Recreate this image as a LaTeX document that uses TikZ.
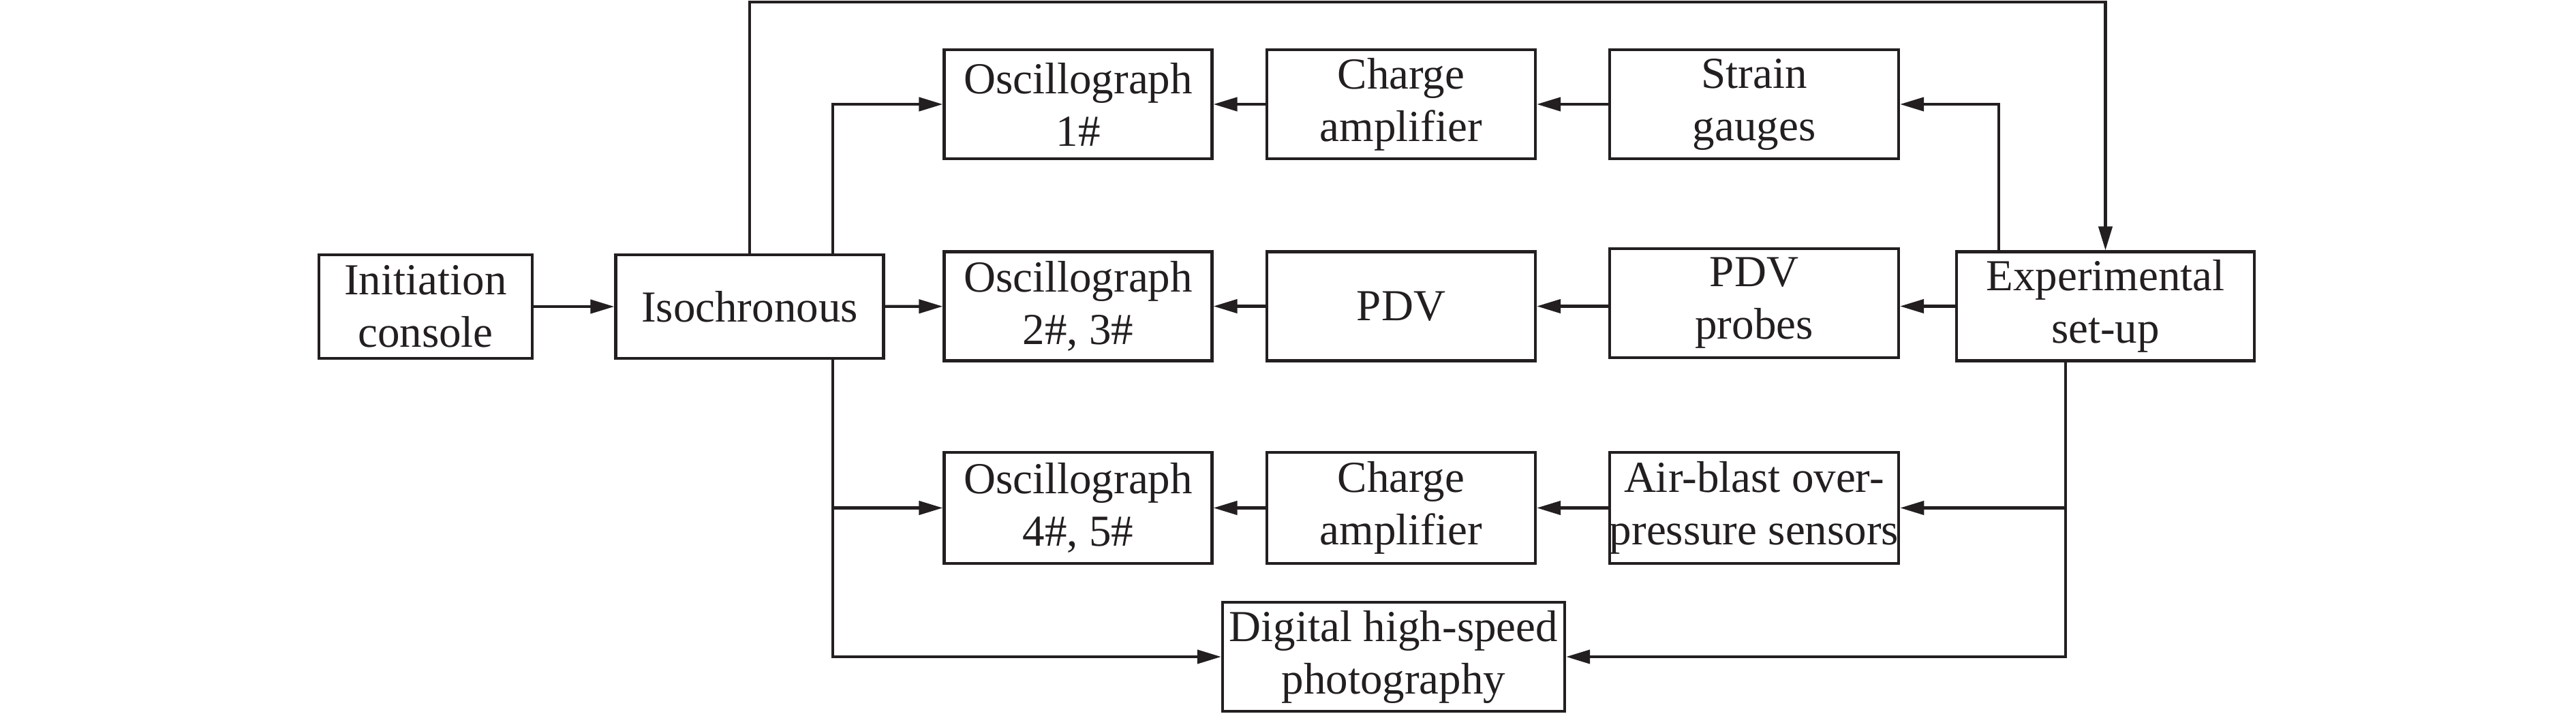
\documentclass[tikz,border=0pt]{standalone}
\usepackage{fontspec}
\setmainfont{Liberation Serif}
\usetikzlibrary{arrows.meta,calc}
\definecolor{ink}{RGB}{35,31,32}
\begin{document}
\begin{tikzpicture}[x=1cm,y=1cm,
  box/.style={draw=ink, line width=0.042cm, minimum height=1.6cm, inner sep=0pt, align=center, font=\fontsize{18.5pt}{21.9pt}\selectfont, text=ink},
  arr/.style={draw=ink, line width=0.042cm, -{Triangle[length=0.35cm,width=0.2cm]}},
  ln/.style={draw=ink, line width=0.042cm}]
\useasboundingbox (0,0) rectangle (37.8,-10.47);
% nodes
\node[box, minimum width=3.13cm, minimum height=1.52cm] (init) at (6.245,-4.50) {Initiation\\console};
\node[box, minimum width=3.93cm, minimum height=1.52cm] (iso) at (11.00,-4.50) {Isochronous};
\node[box, minimum width=3.93cm] (osc1) at (15.82,-1.53) {Oscillograph\\1\#};
\node[box, minimum width=3.94cm] (amp1) at (20.56,-1.53) {Charge\\amplifier};
\node[box, minimum width=4.24cm] (strain) at (25.74,-1.53) {Strain\\gauges};
\node[box, minimum width=3.93cm] (osc2) at (15.82,-4.495) {Oscillograph\\2\#, 3\#};
\node[box, minimum width=3.94cm] (pdv) at (20.56,-4.495) {PDV};
\node[box, minimum width=4.24cm] (probes) at (25.74,-4.45) {PDV\\probes};
\node[box, minimum width=4.37cm] (exp) at (30.895,-4.495) {Experimental\\set-up};
\node[box, minimum width=3.93cm, minimum height=1.63cm] (osc3) at (15.82,-7.455) {Oscillograph\\4\#, 5\#};
\node[box, minimum width=3.94cm, minimum height=1.63cm] (amp3) at (20.56,-7.455) {Charge\\amplifier};
\node[box, minimum width=4.24cm, minimum height=1.63cm] (air) at (25.74,-7.455) {Air-blast over-\\pressure sensors};
\node[box, minimum width=5.02cm, minimum height=1.60cm] (dig) at (20.45,-9.64) {Digital high-speed\\photography};
% helper coordinates
\coordinate (top) at (0,-0.03);
\coordinate (bl) at (12.22,0);
\coordinate (br1) at (29.33,0);
\coordinate (br2) at (30.31,0);
% connectors
\draw[arr] (init) -- (iso);
\draw[arr] (iso) -- (osc2);
\draw[arr] (iso.north) -- (iso.north |- top) -| (exp.north);
\draw[arr] (iso.north -| bl) |- (osc1.west);
\draw[arr] (iso.south -| bl) |- (dig.west);
\draw[arr] (bl |- osc3.west) -- (osc3.west);
\draw[arr] (amp1) -- (osc1);
\draw[arr] (strain) -- (amp1);
\draw[arr] (pdv) -- (osc2);
\draw[arr] (probes.west |- pdv.east) -- (pdv.east);
\draw[arr] (exp.west) -- (exp.west -| probes.east);
\draw[arr] (amp3) -- (osc3);
\draw[arr] (air) -- (amp3);
\draw[arr] (exp.north -| br1) |- (strain.east);
\draw[arr] (exp.south -| br2) |- (dig.east);
\draw[arr] (br2 |- air.east) -- (air.east);
\end{tikzpicture}
\end{document}
